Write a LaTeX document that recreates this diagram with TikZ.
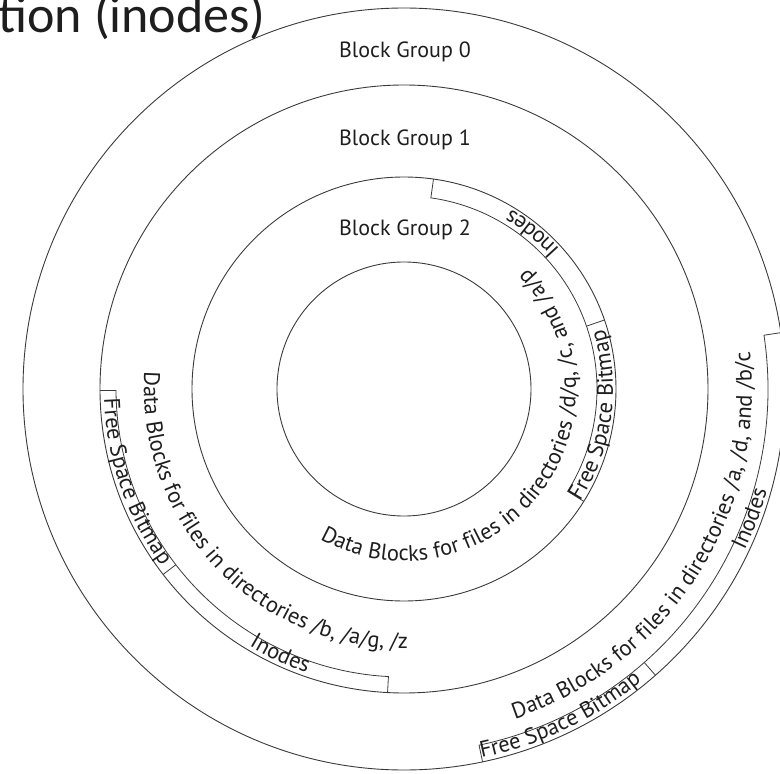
\documentclass[tikz,border=0pt]{standalone}
\usepackage{fontspec}
\setmainfont{PT Sans}
\newfontfamily\titlefont{Carlito}
\usetikzlibrary{decorations.text}
\definecolor{ln}{HTML}{3A3A3A}
\definecolor{tx}{HTML}{1E1E1E}
\newcommand\lblfont{\fontsize{22.5}{25}\selectfont}
\newcommand\grpfont{\fontsize{22}{25}\selectfont}
\tikzset{
  ring/.style={draw=ln, line width=0.9pt},
  strip/.style={draw=ln, line width=0.8pt},
  lbl/.style={font=\grpfont, text=tx, inner sep=0pt},
  arctext/.style={decorate, decoration={text along path, text align=center, text color=tx, text={|\lblfont|#1}}}
}
\begin{document}
\begin{tikzpicture}[x=1pt,y=1pt]
\clip (-404,-385) rectangle (376,389);
\coordinate (O) at (0,0);
% rings
\draw[ring] (O) circle[radius=381];
\draw[ring] (O) circle[radius=304];
\draw[ring] (O) circle[radius=212];
\draw[ring] (O) circle[radius=127];
% strips block group 0
\draw[strip] (8.5:381) -- (8.5:364) arc[start angle=8.5, end angle=-78.1, radius=364] -- (-78.1:381);
\draw[strip] (-48.7:381) -- (-48.7:364);
% strips block group 1
\draw[strip] (180.3:304) -- (180.3:288) arc[start angle=180.3, end angle=266.9, radius=288] -- (266.9:304);
\draw[strip] (217.6:304) -- (217.6:288);
% strips block group 2
\draw[strip] (82:212) -- (82:193) arc[start angle=82, end angle=-32, radius=193] -- (-32:212);
\draw[strip] (19:212) -- (19:193);
% group labels
\node[lbl] (bg0) at (1,337) {Block Group 0};
\node[lbl] (bg1) at (1,249) {Block Group 1};
\node[lbl] (bg2) at (1,159) {Block Group 2};
% curved labels
\path[arctext={Data Blocks for files in directories /a, /d, and /b/c}] (-92.6:348) arc[start angle=-92.6, end angle=27.4, radius=348];
\path[arctext={Inodes}] (-38:377) arc[start angle=-38, end angle=-3, radius=377];
\path[arctext={Free Space Bitmap}] (-94:377) arc[start angle=-94, end angle=-35, radius=377];
\path[arctext={Free Space Bitmap}] (169:300) arc[start angle=169, end angle=229, radius=300];
\path[arctext={Inodes}] (228:300) arc[start angle=228, end angle=262, radius=300];
\path[arctext={Data Blocks for files in directories /b, /a/g, /z}] (153.5:260) arc[start angle=153.5, end angle=293.5, radius=260];
\path[arctext={Inodes}] (33:209) arc[start angle=33, end angle=68, radius=209];
\path[arctext={Free Space Bitmap}] (-45:209) arc[start angle=-45, end angle=29, radius=209];
\path[arctext={Data Blocks for files in directories /d/q, /c, and /a/p}] (217.6:172) arc[start angle=217.6, end angle=427.6, radius=172];
% title fragment
\node[font=\titlefont\fontsize{52}{54}\selectfont, text=tx, anchor=base east, inner sep=0pt] (title) at (-138,356) {tion (inodes)};
\end{tikzpicture}
\end{document}
